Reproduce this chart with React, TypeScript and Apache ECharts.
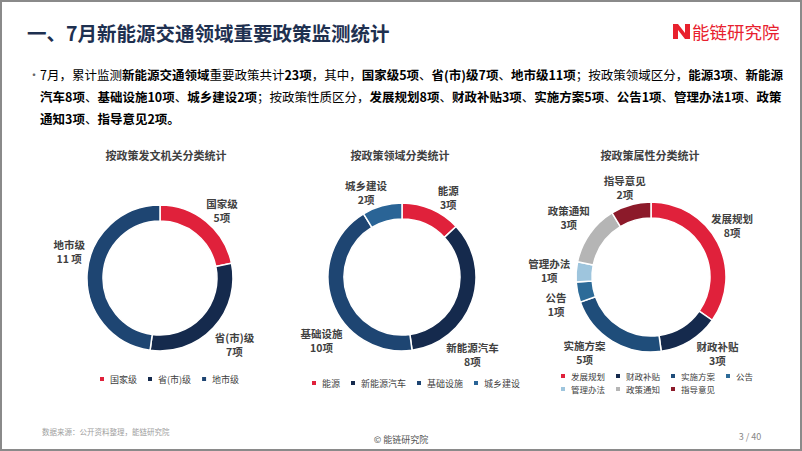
import React, { useEffect, useRef } from 'react';
import * as echarts from 'echarts';

const FONT = '"Noto Sans CJK SC", "Noto Sans", sans-serif';

// Data
const levelNames = ['国家级', '省(市)级', '地市级'];
const levelValues = [5, 7, 11];
const levelSuffix = ['项', '项', ' 项'];

const fieldNames = ['能源', '新能源汽车', '基础设施', '城乡建设'];
const fieldValues = [3, 8, 10, 2];
const fieldSuffix = ['项', '项', '项', '项'];

const natureNames = ['发展规划', '财政补贴', '实施方案', '公告', '管理办法', '政策通知', '指导意见'];
const natureValues = [8, 3, 5, 1, 1, 3, 2];
const natureSuffix = ['项', '项', '项', '项', '项', '项', '项'];

const chartTitles = ['按政策发文机关分类统计', '按政策领域分类统计', '按政策属性分类统计'];

// Styles
const RED = '#e0213b';
const levelColors = [RED, '#152a4d', '#1e4572'];
const fieldColors = [RED, '#152a4d', '#1e4572', '#2a6496'];
const natureColors = [RED, '#152a4d', '#1f4d7a', '#2d6b98', '#9ec5dd', '#b5b5b5', '#8c1a2a'];

const levelNudge = [[2, 6], [5, 2], [4, -20]];
const fieldNudge = [[8, 9], [-20, 45], [10, 31], [-10, 8]];
const natureNudge = [[-5, -7], [16, -6], [-16, -7], [0, 8], [-5, 0], [-3, -4], [0, 4]];

function makePie(names: string[], values: number[], colors: string[], suffix: string[], nudge: number[][], center: number[], radius: number[]) {
  return {
    type: 'pie',
    center,
    radius,
    startAngle: 90,
    clockwise: true,
    avoidLabelOverlap: false,
    silent: true,
    itemStyle: { borderColor: '#ffffff', borderWidth: 1.5 },
    label: {
      show: true,
      position: 'outside',
      formatter: (p: any) => `${p.name}\n${p.value}${suffix[p.dataIndex]}`,
      color: '#404040',
      fontSize: 10.5,
      fontWeight: 'bold',
      lineHeight: 14,
      fontFamily: FONT,
      distanceToLabelLine: 0,
    },
    labelLine: { show: false, length: 22, length2: 0 },
    labelLayout: (p: any) => ({ align: 'center', dx: nudge[p.dataIndex][0], dy: nudge[p.dataIndex][1] }),
    data: names.map((n, i) => ({ name: n, value: values[i], itemStyle: { color: colors[i] } })),
  };
}

const n = (s: string) => `{n|${s}}`;
const b = (s: string) => `{b|${s}}`;
const r = (s: string) => `{r|${s}}`;

export default function App() {
  const ref = useRef<HTMLDivElement>(null);
  useEffect(() => {
    if (!ref.current) return;
    const chart = echarts.init(ref.current, undefined, { renderer: 'svg' });
    const total = levelValues.reduce((a, c) => a + c, 0);
    const line1 =
      n('7月，累计监测') + b('新能源交通领域') + n('重要政策共计') + r(`${total}项`) + n('，其中，') +
      b(levelNames[0]) + r(`${levelValues[0]}项`) + n('、') + b(levelNames[1]) + r(`${levelValues[1]}项`) + n('、') +
      b(levelNames[2]) + r(`${levelValues[2]}项`) + n('；按政策领域区分，') + b(fieldNames[0]) + r(`${fieldValues[0]}项`) +
      n('、') + b('新能源');
    const line2 =
      b('汽车') + r(`${fieldValues[1]}项`) + n('、') + b(fieldNames[2]) + r(`${fieldValues[2]}项`) + n('、') +
      b(fieldNames[3]) + r(`${fieldValues[3]}项`) + n('；按政策性质区分，') +
      b(natureNames[0]) + r(`${natureValues[0]}项`) + n('、') + b(natureNames[1]) + r(`${natureValues[1]}项`) + n('、') +
      b(natureNames[2]) + r(`${natureValues[2]}项`) + n('、') + b(natureNames[3]) + r(`${natureValues[3]}项`) + n('、') +
      b(natureNames[4]) + r(`${natureValues[4]}项`) + n('、') + b('政策');
    const line3 = b('通知') + r(`${natureValues[5]}项`) + n('、') + b(natureNames[6]) + r(`${natureValues[6]}项`) + b('。');

    const fs = 12.5;
    const legendCommon = {
      icon: 'rect',
      itemWidth: 6,
      itemHeight: 6,
      itemGap: 9,
      padding: 0,
      selectedMode: false,
      textStyle: { fontSize: 9, lineHeight: 10, color: '#404040', fontFamily: FONT },
    };

    chart.setOption({
      animation: false,
      backgroundColor: '#ffffff',
      textStyle: { fontFamily: FONT },
      legend: [
        { ...legendCommon, data: levelNames, left: 98, top: 374 },
        { ...legendCommon, data: fieldNames, left: 310, top: 378 },
        { ...legendCommon, data: natureNames.slice(0, 4), left: 559, top: 371, textStyle: { ...legendCommon.textStyle, fontSize: 8.5 } },
        { ...legendCommon, data: natureNames.slice(4), left: 559, top: 384, textStyle: { ...legendCommon.textStyle, fontSize: 8.5 } },
      ],
      series: [
        makePie(levelNames, levelValues, levelColors, levelSuffix, levelNudge, [160, 278], [57, 73]),
        makePie(fieldNames, fieldValues, fieldColors, fieldSuffix, fieldNudge, [402, 277], [58, 74]),
        makePie(natureNames, natureValues, natureColors, natureSuffix, natureNudge, [651, 277], [59, 75]),
      ],
      graphic: [
        {
          type: 'rect', silent: true,
          shape: { x: 1, y: 1, width: 800, height: 449 },
          style: { fill: 'none', stroke: '#8a8a8a', lineWidth: 2 },
        },
        {
          type: 'text', x: 27, y: 32,
          style: { text: '一、7月新能源交通领域重要政策监测统计', fontSize: 19.5, fontWeight: 'bold', fill: '#1e3050', fontFamily: FONT, verticalAlign: 'middle' },
        },
        {
          type: 'polygon', x: 673, y: 24,
          shape: { points: [[0, 15], [0, 0], [5, 0], [12, 9], [12, 0], [17, 0], [17, 15], [12, 15], [5, 6], [5, 15]] },
          style: { fill: '#e8212e' },
        },
        {
          type: 'text', x: 692, y: 31,
          style: { text: '能链研究院', fontSize: 17.5, fill: '#e8212e', fontFamily: FONT, verticalAlign: 'middle' },
        },
        {
          type: 'text', x: 28, y: 74,
          style: { text: '•', fontSize: 12, fill: '#666', fontFamily: FONT, verticalAlign: 'middle' },
        },
        {
          type: 'text', x: 40, y: 63,
          style: {
            text: [line1, line2, line3].join('\n'),
            verticalAlign: 'top',
            rich: {
              n: { fontSize: fs, color: '#404040', fontFamily: FONT, lineHeight: 22 },
              b: { fontSize: fs, color: '#222222', fontWeight: 'bold', fontFamily: FONT, lineHeight: 22 },
              r: { fontSize: fs, color: RED, fontWeight: 'bold', fontFamily: FONT, lineHeight: 22 },
            },
          },
        },
        ...[[166, chartTitles[0]], [400, chartTitles[1]], [650, chartTitles[2]]].map(([x, t]) => ({
          type: 'text', x: x as number, y: 155,
          style: { text: t as string, fontSize: 11, fontWeight: 'bold', fill: '#404040', fontFamily: FONT, align: 'center', verticalAlign: 'middle' },
        })),
        {
          type: 'text', x: 42, y: 431,
          style: { text: '数据来源：公开资料整理，能链研究院', fontSize: 7.5, fill: '#a0a0a0', fontFamily: FONT, verticalAlign: 'middle' },
        },
        {
          type: 'text', x: 401, y: 439,
          style: { text: '© 能链研究院', fontSize: 9, fill: '#555555', fontFamily: FONT, align: 'center', verticalAlign: 'middle' },
        },
        {
          type: 'text', x: 750, y: 436,
          style: { text: '3 / 40', fontSize: 9, fill: '#888888', fontFamily: FONT, align: 'center', verticalAlign: 'middle' },
        },
      ],
    });
    return () => chart.dispose();
  }, []);
  return <div ref={ref} style={{ position: 'fixed', left: 0, top: 0, width: 802, height: 451 }} />;
}
